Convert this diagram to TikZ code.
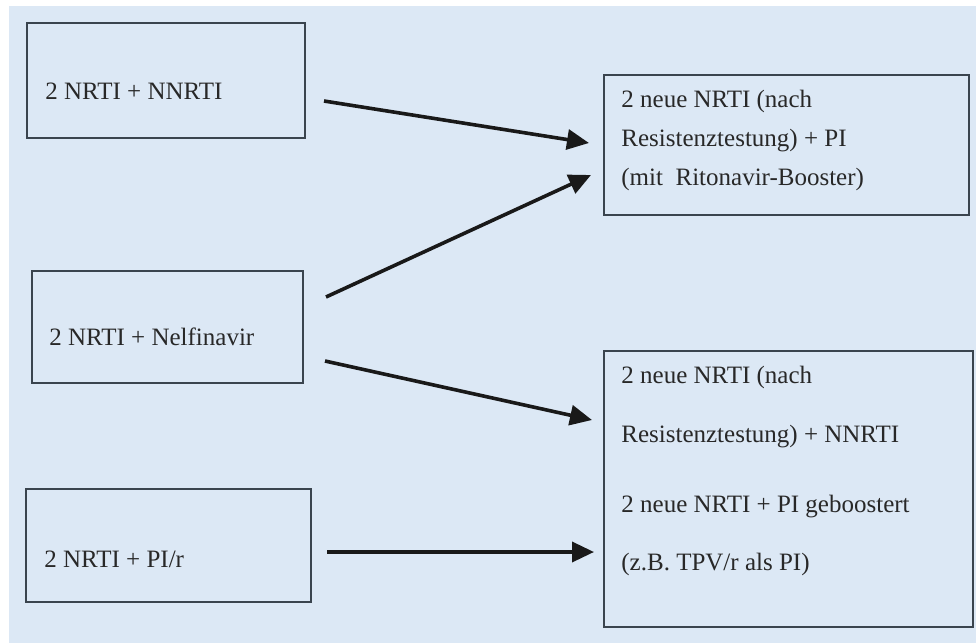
\documentclass[tikz,border=0pt]{standalone}
\usepackage{fontspec}
\setmainfont{Liberation Serif}
\usetikzlibrary{calc, arrows.meta}
\definecolor{paleblue}{RGB}{220,232,245}
\definecolor{boxgray}{RGB}{58,68,78}
\definecolor{inkgray}{RGB}{40,40,40}
\tikzstyle{therapy} = [rectangle, draw=boxgray, line width=1pt, fill=paleblue, inner sep=0pt]
\tikzstyle{label} = [anchor=base west, inner sep=0pt, text=inkgray, align=left, font=\fontsize{12.5}{15}\selectfont]
\tikzstyle{arrow} = [line width=1.8pt, -{Triangle[length=11pt,width=10pt]}, black!90]

\begin{document}
\begin{tikzpicture}[x=0.5pt, y=-0.5pt]

\useasboundingbox (0,0) rectangle (976,643);
\fill [paleblue] (9,6) rectangle (976,643);

% Nodes (multi-line labels sit on the baseline of their last line)
\node (nnrti) [therapy, minimum width=139pt, minimum height=57.5pt] at (166,80.5) {};
\node (nnrtiText) [label] at (45,99) {2 NRTI + NNRTI};

\node (nelf) [therapy, minimum width=135.5pt, minimum height=56pt] at (167.5,327) {};
\node (nelfText) [label] at (49,345) {2 NRTI + Nelfinavir};

\node (pir) [therapy, minimum width=142.5pt, minimum height=56.5pt] at (168.5,545.5) {};
\node (pirText) [label] at (44,567) {2 NRTI + PI/r};

\node (boostPI) [therapy, minimum width=182.5pt, minimum height=70pt] at (786.5,145) {};
\node (boostPIText) [label] at (621,185) {2 neue NRTI (nach\\[4.5pt]
Resistenztestung) + PI\\[4.5pt]
(mit~ Ritonavir-Booster)};

\node (switch) [therapy, minimum width=184.5pt, minimum height=138pt] at (788.5,489) {};
\node (switchText) [label] at (621,570) {2 neue NRTI (nach\\[14.5pt]
Resistenztestung) + NNRTI\\[20pt]
2 neue NRTI + PI geboostert\\[14pt]
(z.B. TPV/r als PI)};

% Arrow ends
\coordinate (nnrtiOut) at ($(nnrti.east)+(18,20.5)$);
\coordinate (nelfUp) at ($(nelf.east)+(22,-30)$);
\coordinate (nelfDown) at ($(nelf.east)+(21,34)$);
\coordinate (pirOut) at ($(pir.east)+(15,6.5)$);
\coordinate (boostIn1) at ($(boostPI.west)+(-14,-2)$);
\coordinate (boostIn2) at ($(boostPI.west)+(-12,30)$);
\coordinate (switchIn1) at ($(switch.west)+(-11,-69)$);
\coordinate (switchIn2) at ($(switch.west)+(-9,63)$);

% Arrows
\draw [arrow] (nnrtiOut) -- (boostIn1);
\draw [arrow] (nelfUp) -- (boostIn2);
\draw [arrow] (nelfDown) -- (switchIn1);
\draw [arrow] (pirOut) -- (switchIn2);

\end{tikzpicture}
\end{document}
